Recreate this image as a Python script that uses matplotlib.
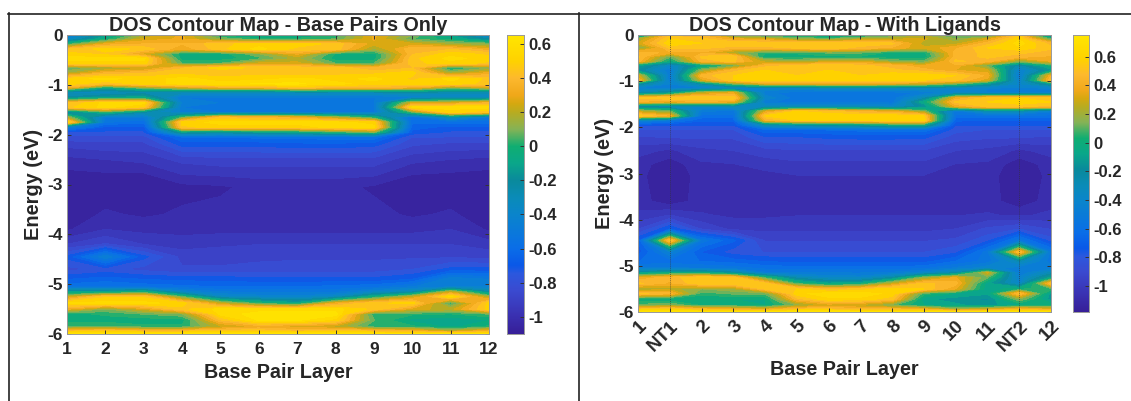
import numpy as np
import matplotlib
matplotlib.use("Agg")
import matplotlib.pyplot as plt
from matplotlib.colors import LinearSegmentedColormap
from matplotlib.lines import Line2D

plt.rcParams['font.family'] = ['Liberation Sans', 'DejaVu Sans']
plt.rcParams['font.weight'] = 'bold'

W, H = 1131, 401

# energy rows shared by both maps (eV)
energy = [0, -0.08, -0.18, -0.28, -0.38, -0.47, -0.57, -0.66, -0.76, -0.88, -0.98, -1.06, -1.15, -1.25,
          -1.36, -1.45, -1.55, -1.65, -1.75, -1.85, -1.95, -2.05, -2.2, -2.5, -2.8, -3.05, -3.6, -3.9,
          -4.2, -4.45, -4.7, -4.9, -5.05, -5.15, -5.25, -5.38, -5.5, -5.6, -5.72, -5.85, -5.94, -6]

layers_left = list(range(1, 13))
dos_left = [
    [-.50, -.15, .15, .30, -.05, -.15, -.10, .00, .30, .10, -.15, -.50],
    [-.40, -.05, .25, .30, .10, .00, .00, .05, .30, .05, -.05, -.25],
    [.00, .30, .35, .35, .45, .50, .50, .45, .25, .25, .15, .10],
    [.40, .50, .45, .30, .45, .55, .45, .45, .15, .40, .40, .30],
    [.50, .45, .25, -.05, -.05, .10, .30, -.02, -.05, .40, .50, .45],
    [.55, .55, .55, -.05, -.05, .02, .18, -.05, -.05, .45, .55, .50],
    [.50, .50, .50, .05, .05, .25, .25, .05, .05, .45, .50, .45],
    [.05, .15, .20, .40, .50, .45, .45, .45, .35, .40, -.05, .10],
    [.15, .35, .40, .45, .40, .45, .40, .45, .45, .50, .15, .30],
    [.50, .55, .50, .55, .50, .50, .55, .50, .55, .45, .55, .45],
    [.50, .40, .50, .55, .55, .60, .60, .55, .50, .50, .50, .45],
    [.30, -.10, .10, .20, .30, .30, .40, .35, .35, .30, .10, .20],
    [-.35, -.35, -.30, -.30, -.35, -.35, -.30, -.30, -.30, -.25, -.30, -.30],
    [-.25, -.15, -.10, -.50, -.50, -.50, -.50, -.50, -.50, -.45, -.35, -.35],
    [.40, .55, .55, -.45, -.50, -.50, -.50, -.50, -.50, .25, .25, .35],
    [.45, .55, .45, -.50, -.50, -.50, -.50, -.50, -.50, .55, .55, .55],
    [-.30, .00, -.25, -.45, -.50, -.50, -.50, -.50, -.50, .05, .50, .40],
    [.15, -.50, -.50, .05, .40, .35, .30, .15, -.05, -.60, -.30, -.50],
    [.55, -.55, -.60, .50, .55, .55, .55, .55, .50, -.60, -.60, -.60],
    [-.45, -.70, -.70, .45, .50, .50, .50, .55, .55, -.65, -.70, -.70],
    [-.75, -.75, -.75, -.15, -.20, -.15, -.10, .00, .10, -.70, -.75, -.75],
    [-.82, -.82, -.82, -.62, -.62, -.60, -.60, -.58, -.58, -.80, -.80, -.80],
    [-.90, -.88, -.88, -.72, -.72, -.72, -.70, -.70, -.72, -.85, -.88, -.88],
    [-1.00, -.98, -.96, -.90, -.88, -.88, -.88, -.88, -.88, -.96, -.98, -1.00],
    [-1.06, -1.05, -1.05, -.98, -.97, -.96, -.96, -.96, -.97, -1.04, -1.05, -1.06],
    [-1.08, -1.08, -1.07, -1.06, -1.05, -1.02, -1.02, -1.02, -1.05, -1.07, -1.08, -1.08],
    [-1.08, -1.03, -1.05, -1.03, -1.02, -1.02, -1.02, -1.02, -1.02, -1.05, -1.03, -1.08],
    [-1.05, -.98, -1.00, -1.00, -1.00, -1.00, -1.00, -1.00, -1.00, -1.00, -.98, -1.05],
    [-.92, -.85, -.92, -.95, -.93, -.92, -.92, -.92, -.92, -.92, -.92, -.95],
    [-.72, -.45, -.72, -.88, -.88, -.88, -.87, -.87, -.87, -.87, -.87, -.88],
    [-.82, -.78, -.82, -.85, -.85, -.83, -.83, -.83, -.83, -.80, -.72, -.72],
    [-.68, -.65, -.68, -.70, -.70, -.72, -.72, -.72, -.72, -.68, -.45, -.50],
    [-.58, -.55, -.58, -.60, -.62, -.62, -.62, -.60, -.58, -.50, -.45, -.45],
    [-.15, -.15, -.05, -.40, -.50, -.52, -.52, -.52, -.40, -.30, .20, -.25],
    [.20, .45, .45, .05, -.35, -.40, -.42, -.35, -.05, .20, .55, .15],
    [.55, .55, .55, .50, .20, .00, -.10, .30, .45, .50, .00, .50],
    [.30, .10, .25, .45, .55, .55, .55, .55, .45, .25, .20, .50],
    [-.05, .00, .05, .10, .55, .62, .62, .62, .00, .00, -.02, .05],
    [-.05, -.05, -.05, -.05, .40, .60, .60, .50, .05, -.10, -.12, -.08],
    [.05, .05, .00, .00, .20, .30, .25, .20, .00, .00, -.10, .00],
    [.40, .45, .40, .40, .45, .45, .40, .45, .40, .35, .20, .35],
    [.60, .60, .60, .60, .60, .60, .60, .60, .60, .60, .60, .60],
]

layers_right = ['1', 'NT1', '2', '3', '4', '5', '6', '7', '8', '9', '10', '11', 'NT2', '12']
dos_right = [
    [-.50, .45, .40, .05, -.05, -.05, -.15, -.10, .05, .20, .05, -.10, .50, -.40],
    [.20, .55, .50, .35, .30, .15, .10, .20, .25, .30, .15, .30, .60, .05],
    [.30, .60, .55, .55, .55, .55, .55, .55, .50, .25, .25, .45, .65, .45],
    [.10, .50, .50, .45, .45, .50, .55, .45, .40, .30, .40, .55, .60, .50],
    [.45, .40, .40, .20, .05, .05, .10, .10, .00, .00, .45, .50, .50, .45],
    [.50, .10, .50, .55, -.05, -.05, .00, .00, -.05, -.05, .45, .50, .45, .40],
    [.45, -.05, .45, .50, .25, .20, .25, .30, .15, .10, .50, .45, .15, .35],
    [-.10, -.40, -.10, .10, .45, .50, .55, .50, .45, .35, .40, .10, -.30, .00],
    [-.20, -.50, .15, .45, .55, .50, .55, .50, .50, .45, .35, .30, -.45, -.15],
    [.30, -.50, .45, .55, .60, .55, .60, .55, .60, .60, .55, .40, -.50, .40],
    [.45, -.50, .30, .55, .60, .60, .55, .60, .60, .55, .50, .30, -.45, .50],
    [-.20, -.45, -.25, .10, .30, .30, .35, .35, .30, .25, .10, -.15, -.40, -.15],
    [-.45, -.45, -.45, -.40, -.40, -.40, -.35, -.35, -.35, -.35, -.40, -.45, -.45, -.45],
    [-.30, -.15, .25, .35, -.50, -.55, -.55, -.55, -.55, -.50, -.40, -.45, -.45, -.45],
    [.50, .55, .55, .55, -.40, -.55, -.55, -.55, -.55, -.30, .35, .50, .55, .55],
    [.40, .35, .40, .35, -.50, -.55, -.55, -.55, -.55, -.05, .50, .55, .60, .55],
    [-.30, -.35, -.40, -.35, -.35, -.35, -.35, -.35, -.40, -.20, .35, .50, .50, .45],
    [.25, .10, -.50, -.55, .30, .55, .50, .40, .35, .15, -.55, -.30, -.30, -.50],
    [.55, .40, -.60, -.60, .55, .60, .60, .60, .60, .55, -.60, -.60, -.60, -.60],
    [-.40, -.55, -.70, -.70, .40, .55, .55, .55, .60, .60, -.70, -.72, -.72, -.72],
    [-.78, -.78, -.78, -.78, -.30, -.25, -.20, -.15, -.05, -.05, -.78, -.78, -.78, -.78],
    [-.85, -.85, -.85, -.85, -.66, -.66, -.64, -.62, -.60, -.60, -.82, -.85, -.85, -.85],
    [-.92, -.90, -.90, -.90, -.78, -.78, -.76, -.75, -.75, -.76, -.88, -.90, -.90, -.92],
    [-1.02, -1.06, -1.00, -.98, -.94, -.92, -.92, -.92, -.92, -.92, -.98, -1.00, -1.06, -1.02],
    [-1.08, -1.16, -1.06, -1.05, -1.02, -1.00, -1.00, -1.00, -1.00, -1.00, -1.05, -1.06, -1.16, -1.08],
    [-1.09, -1.18, -1.08, -1.08, -1.07, -1.05, -1.05, -1.05, -1.05, -1.05, -1.07, -1.08, -1.18, -1.09],
    [-1.08, -1.16, -1.08, -1.08, -1.08, -1.05, -1.05, -1.05, -1.05, -1.05, -1.08, -1.08, -1.16, -1.08],
    [-1.03, -.98, -1.04, -1.06, -1.06, -1.05, -1.05, -1.05, -1.05, -1.05, -1.05, -1.04, -1.06, -1.03],
    [-.92, -.72, -.92, -1.00, -1.00, -1.00, -1.00, -1.00, -1.00, -1.00, -.98, -.90, -.85, -.92],
    [-.72, .55, -.55, -.70, -.92, -.92, -.92, -.92, -.92, -.92, -.90, -.80, -.55, -.82],
    [-.75, -.45, -.72, -.82, -.85, -.85, -.85, -.85, -.85, -.85, -.80, -.55, .50, -.55],
    [-.65, -.62, -.65, -.68, -.72, -.74, -.74, -.74, -.74, -.74, -.65, -.55, -.30, -.55],
    [-.50, -.50, -.52, -.55, -.60, -.62, -.62, -.62, -.62, -.60, -.50, -.40, -.50, -.50],
    [-.15, -.05, -.05, -.20, -.50, -.52, -.52, -.52, -.50, -.40, -.25, .30, -.50, -.30],
    [.35, .45, .55, .50, .05, -.30, -.40, -.42, -.25, .15, .35, .10, -.45, -.10],
    [.50, .40, .55, .55, .50, .05, -.10, -.05, .25, .50, .45, -.10, -.40, .50],
    [.20, .25, .15, .20, .50, .55, .45, .50, .60, .55, .35, -.10, .00, .05],
    [.50, .45, .05, .10, .10, .60, .65, .65, .60, .05, -.05, -.10, .50, -.15],
    [-.05, -.05, -.05, -.05, -.05, .45, .60, .60, .50, -.10, -.15, -.20, .15, -.15],
    [.10, .15, .00, .00, -.05, .15, .30, .25, .10, -.05, -.10, -.15, -.05, .00],
    [.50, .55, .45, .40, .35, .50, .50, .45, .45, .40, .20, .30, .45, .35],
    [.70, .70, .70, .70, .70, .70, .70, .70, .70, .70, .70, .70, .70, .70],
]

cbar_ticks = [-1, -0.8, -0.6, -0.4, -0.2, 0, 0.2, 0.4, 0.6]
clim_left = (-1.1, 0.65)
clim_right = (-1.18, 0.75)

# colours
cmap_stops = [-1.1, -1.0, -.85, -.75, -.7, -.6, -.4, -.3, -.2, -.1, 0, .1, .2, .25, .3, .4, .5, .65]
cmap_colors = ["#371f98", "#3a30b0", "#3b4ad0", "#2c58de", "#0a58e8", "#0a6ee8", "#0a85cc", "#0a8cb8",
               "#0a8a9c", "#0aa78a", "#10ae72", "#86b356", "#b9ac20", "#d5a910", "#f0a81a", "#fdb92e",
               "#ffd200", "#ffe600"]
parula = LinearSegmentedColormap.from_list(
    "parula", [((s + 1.1) / 1.75, c) for s, c in zip(cmap_stops, cmap_colors)])
TEXT = "#262626"


def axes_px(x0, y0, x1, y1):
    return [x0 / W, 1 - y1 / H, (x1 - x0) / W, (y1 - y0) / H]


def draw_map(box, cbox, x, dos, clim, title):
    ax = fig.add_axes(axes_px(*box))
    levels = np.linspace(clim[0], clim[1], 30)
    ax.contourf(x, energy, np.clip(dos, clim[0] + 1e-3, clim[1] - 1e-3), levels=levels,
                cmap=parula, vmin=clim[0], vmax=clim[1])
    ax.set_ylim(-6, 0)
    ax.set_yticks(range(-6, 1))
    ax.set_yticklabels([str(v) for v in range(-6, 1)])
    ax.tick_params(axis='both', direction='in', top=True, right=True, length=3, width=0.7,
                   color="#333333", labelsize=12.5, labelcolor=TEXT)
    ax.tick_params(axis='x', pad=6)
    ax.tick_params(axis='y', pad=3)
    for s in ax.spines.values():
        s.set_color("#999999")
        s.set_linewidth(0.7)
    ax.set_title(title, fontsize=14.2, fontweight='bold', color=TEXT, pad=3)
    ax.set_ylabel("Energy (eV)", fontsize=14.4, fontweight='bold', color=TEXT, labelpad=3)

    cax = fig.add_axes(axes_px(*cbox))
    grad = np.linspace(clim[0], clim[1], 256).reshape(-1, 1)
    cax.imshow(grad, origin='lower', aspect='auto', cmap=parula, extent=[0, 1, clim[0], clim[1]])
    cax.set_xticks([])
    cax.yaxis.tick_right()
    cax.set_yticks(cbar_ticks)
    cax.set_yticklabels(["%g" % t for t in cbar_ticks])
    cax.tick_params(axis='y', direction='in', length=3, width=0.7, color="#333333",
                    labelsize=12, labelcolor=TEXT, pad=3)
    for s in cax.spines.values():
        s.set_color("#999999")
        s.set_linewidth(0.7)
    return ax


fig = plt.figure(figsize=(W / 100, H / 100), dpi=100, facecolor='white')

# left panel
ax1 = draw_map((67, 35, 489, 334), (507, 35, 524, 334), layers_left, dos_left, clim_left,
               "DOS Contour Map - Base Pairs Only")
ax1.set_xticks(layers_left)
ax1.set_xlabel("Base Pair Layer", fontsize=14.2, fontweight='bold', color=TEXT, labelpad=4)

# right panel, NT columns sit on their own positions
pos = list(range(len(layers_right)))
ax2 = draw_map((638, 35, 1051, 312), (1073, 35, 1089, 312), pos, dos_right, clim_right,
               "DOS Contour Map - With Ligands")
ax2.set_xticks(pos)
ax2.set_xticklabels(layers_right, rotation=45, ha='right', rotation_mode='anchor', fontsize=13.5)
ax2.tick_params(axis='x', pad=4)
ax2.set_xlabel("Base Pair Layer", fontsize=14.2, fontweight='bold', color=TEXT, labelpad=4)
for name in ['NT1', 'NT2']:
    ax2.axvline(layers_right.index(name), color="#333333", lw=0.5, ls=(0, (1.5, 1.5)), alpha=0.8)

# frame around the panels
for xs, ys in [((8, W), (13.5, 13.5)), ((9, 9), (13, H)), ((578.5, 578.5), (13, H))]:
    fig.add_artist(Line2D([x / W for x in xs], [1 - y / H for y in ys], color="#222222", lw=1.2))

fig.savefig("out.png", dpi=100)
